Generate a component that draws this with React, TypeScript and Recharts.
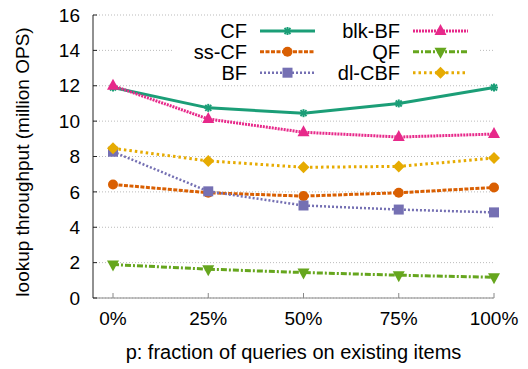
import { CartesianGrid, Line, LineChart, XAxis, YAxis } from "recharts";

const pct = [0, 25, 50, 75, 100];
const cf = [11.9, 10.75, 10.45, 11.0, 11.9];
const ssCf = [6.42, 5.95, 5.76, 5.95, 6.25];
const bf = [8.27, 6.03, 5.23, 5.0, 4.84];
const blkBf = [12.0, 10.12, 9.37, 9.1, 9.27];
const qf = [1.89, 1.63, 1.44, 1.29, 1.17];
const dlCbf = [8.46, 7.75, 7.39, 7.44, 7.91];
const yTicks = [0, 2, 4, 6, 8, 10, 12, 14, 16];

const FONT = "'Liberation Sans', Arial, Helvetica, sans-serif";

const chartData = pct.map((p, i) => ({
  p,
  cf: cf[i],
  ssCf: ssCf[i],
  bf: bf[i],
  blkBf: blkBf[i],
  qf: qf[i],
  dlCbf: dlCbf[i],
}));

const SERIES = [
  { key: "cf", name: "CF", color: "#1b9e77", dash: undefined, width: 3, marker: "star" },
  { key: "ssCf", name: "ss-CF", color: "#d95f02", dash: "4 1.5", width: 3, marker: "circle" },
  { key: "bf", name: "BF", color: "#7570b3", dash: "2 2", width: 2.5, marker: "square" },
  { key: "blkBf", name: "blk-BF", color: "#e7298a", dash: "2 1", width: 3, marker: "tri" },
  { key: "qf", name: "QF", color: "#66a61e", dash: "6 2 2 2", width: 3, marker: "triDown" },
  { key: "dlCbf", name: "dl-CBF", color: "#e6ab02", dash: "2.5 3", width: 3, marker: "diamond" },
];

function Marker({ kind, cx, cy, color }: { kind: string; cx: number; cy: number; color: string }) {
  switch (kind) {
    case "star":
      return (
        <g stroke={color} strokeWidth={2}>
          <line x1={cx - 4} y1={cy} x2={cx + 4} y2={cy} />
          <line x1={cx} y1={cy - 4} x2={cx} y2={cy + 4} />
          <line x1={cx - 3} y1={cy - 3} x2={cx + 3} y2={cy + 3} />
          <line x1={cx - 3} y1={cy + 3} x2={cx + 3} y2={cy - 3} />
        </g>
      );
    case "circle":
      return <circle cx={cx} cy={cy} r={5} fill={color} />;
    case "square":
      return <rect x={cx - 5} y={cy - 5} width={10} height={10} fill={color} />;
    case "tri":
      return <polygon points={`${cx},${cy - 7} ${cx + 6},${cy + 4} ${cx - 6},${cy + 4}`} fill={color} />;
    case "triDown":
      return <polygon points={`${cx},${cy + 7} ${cx + 6},${cy - 4} ${cx - 6},${cy - 4}`} fill={color} />;
    default:
      return <polygon points={`${cx},${cy - 6} ${cx + 6},${cy} ${cx},${cy + 6} ${cx - 6},${cy}`} fill={color} />;
  }
}

// legend sits on a white box over the plot, hiding part of the 14 gridline
function LegendBox() {
  const rows = [12, 32.7, 53.7];
  return (
    <svg width={307} height={66} style={{ display: "block" }}>
      <rect x={0} y={0} width={307} height={66} fill="#fff" />
      {SERIES.map((s, i) => {
        const col = Math.floor(i / 3);
        const y = rows[i % 3];
        const labelX = col === 0 ? 74 : 227;
        const x1 = col === 0 ? 87 : 240;
        const x2 = x1 + 55;
        return (
          <g key={s.key}>
            <text
              x={labelX}
              y={y}
              textAnchor="end"
              dominantBaseline="central"
              fontFamily={FONT}
              fontSize={20}
              fill="#000"
            >
              {s.name}
            </text>
            <line x1={x1} y1={y} x2={x2} y2={y} stroke={s.color} strokeWidth={s.width} strokeDasharray={s.dash} />
            <Marker kind={s.marker} cx={(x1 + x2) / 2} cy={y} color={s.color} />
          </g>
        );
      })}
    </svg>
  );
}

const YLabel = () => (
  <text
    x={22}
    y={162}
    transform="rotate(-90 22 162)"
    textAnchor="middle"
    dominantBaseline="central"
    fontFamily={FONT}
    fontSize={19}
    fill="#000"
  >
    lookup throughput (million OPS)
  </text>
);

export default function App() {
  return (
    <div style={{ position: "absolute", left: 0, top: 0, width: 528, height: 369, background: "#fff" }}>
      <LineChart
        width={528}
        height={369}
        data={chartData}
        margin={{ top: 15, right: 34, left: 0, bottom: 0 }}
        style={{ fontFamily: FONT }}
      >
        <CartesianGrid vertical={false} stroke="#bbb" strokeDasharray="1 2" />
        <XAxis
          dataKey="p"
          type="number"
          domain={[0, 100]}
          ticks={pct}
          padding={{ left: 20, right: 0 }}
          tickFormatter={(v) => `${v}%`}
          height={71}
          stroke="#888"
          tickSize={-5}
          tickMargin={19}
          tick={{ fill: "#000", fontSize: 19 }}
          label={{
            value: "p: fraction of queries on existing items",
            position: "insideBottom",
            offset: 10,
            fill: "#000",
            fontSize: 20,
          }}
        />
        <YAxis
          domain={[0, 16]}
          ticks={yTicks}
          width={93}
          stroke="#222"
          tickSize={-4}
          tickMargin={17}
          tick={{ fill: "#000", fontSize: 19 }}
          label={{ content: YLabel }}
        />
        {SERIES.map((s) => (
          <Line
            key={s.key}
            dataKey={s.key}
            name={s.name}
            type="linear"
            stroke={s.color}
            strokeWidth={s.width}
            strokeDasharray={s.dash}
            isAnimationActive={false}
            dot={(props: any) => (
              <Marker key={`${s.key}-${props.index}`} kind={s.marker} cx={props.cx} cy={props.cy} color={s.color} />
            )}
            activeDot={false}
          />
        ))}
      </LineChart>
      <div style={{ position: "absolute", left: 173, top: 19 }}>
        <LegendBox />
      </div>
    </div>
  );
}
